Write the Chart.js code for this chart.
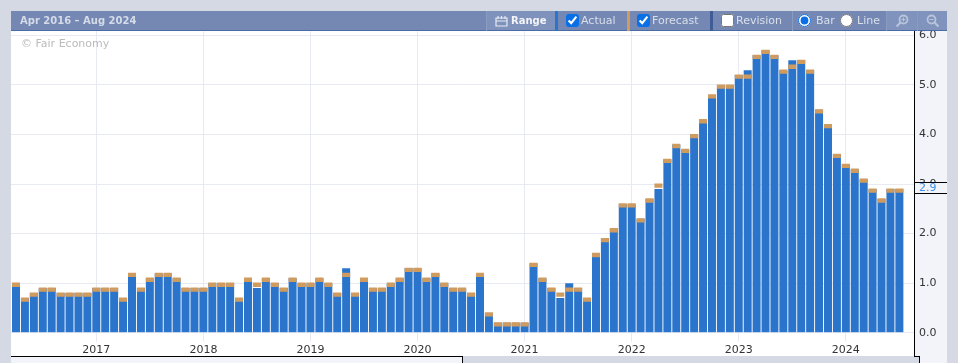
<!DOCTYPE html>
<html>
<head>
<meta charset="utf-8">
<script src="https://cdn.jsdelivr.net/npm/chart.js@4"></script>
<style>
html,body{margin:0;padding:0;width:958px;height:363px;overflow:hidden;background:#d5d9e3;font-family:"DejaVu Sans",sans-serif;}
.abs{position:absolute;}
#plotbg{left:11px;top:31px;width:903px;height:325px;background:#fff;}
#panel{left:914px;top:31px;width:33px;height:325px;background:#f3f4f9;}
#panel2{left:919px;top:356px;width:28px;height:7px;background:#f3f4f9;}
#botleft{left:11px;top:357px;width:451px;height:6px;background:#f3f4f9;}
.blk{position:absolute;background:#000;}
#chartwrap{left:11px;top:31px;width:936px;height:325px;}
#header{left:11px;top:11px;width:936px;height:19px;background:#7488b3;border-bottom:1px solid #4a6aa8;}
.t{position:absolute;font-size:11px;line-height:20px;top:11px;color:#d9dfeb;white-space:nowrap;}
.sep{position:absolute;top:11px;height:20px;width:1px;background:#8a9bc1;}
.stripe{position:absolute;top:11px;height:20px;width:3px;}
input{position:absolute;margin:0;width:13px;height:13px;top:14px;accent-color:#0b6fe6;}
svg{position:absolute;}
#wm{left:21px;top:37px;font-size:11px;line-height:14px;color:#bbbbbb;}
</style>
</head>
<body>
<div class="abs" id="plotbg"></div>
<div class="abs" id="panel"></div>
<div class="abs" id="panel2"></div>
<div class="abs" id="botleft"></div>
<div class="abs" id="chartwrap"><canvas id="c" width="936" height="325" style="display:block;width:936px;height:325px"></canvas></div>
<div class="abs" id="wm">© Fair Economy</div>
<div class="blk" style="left:914px;top:31px;width:1px;height:326px"></div>
<div class="blk" style="left:11px;top:356px;width:452px;height:1px"></div>
<div class="blk" style="left:462px;top:356px;width:1px;height:7px"></div>
<div class="blk" style="left:914px;top:356px;width:6px;height:1px"></div>
<div class="blk" style="left:919px;top:356px;width:1px;height:7px"></div>

<div class="abs" id="header"></div>
<div class="t" style="left:20px;font-weight:bold;font-size:10px;color:#d5dbe8">Apr 2016 – Aug 2024</div>
<div class="abs" style="left:487px;top:11px;width:68px;height:19px;background:#7f92bb"></div>
<div class="sep" style="left:486px"></div>
<svg style="left:495px;top:15px" width="13" height="12" viewBox="0 0 13 12"><path d="M1 3h11v8H1z M1 6h11" fill="none" stroke="#e6eaf2" stroke-width="1.2"/><path d="M3 1v3M6.500 1v3M10 1v3" stroke="#e6eaf2" stroke-width="1.2"/></svg>
<div class="t" style="left:511px;font-weight:bold;font-size:10px;color:#f2f4f8">Range</div>
<div class="stripe" style="left:555px;background:#2a74cc"></div>
<input type="checkbox" checked style="left:566px">
<div class="t" style="left:581px">Actual</div>
<div class="stripe" style="left:627px;background:#d09b5f"></div>
<input type="checkbox" checked style="left:637px">
<div class="t" style="left:652px">Forecast</div>
<div class="stripe" style="left:710px;background:#3f5c96"></div>
<input type="checkbox" style="left:721px">
<div class="t" style="left:736px">Revision</div>
<div class="sep" style="left:792px"></div>
<input type="radio" name="m" checked style="left:798px">
<div class="t" style="left:816px">Bar</div>
<input type="radio" name="m" style="left:840px">
<div class="t" style="left:857px">Line</div>
<div class="sep" style="left:886px"></div>
<div class="abs" style="left:887px;top:11px;width:60px;height:19px;background:#8093bc"></div>
<div class="sep" style="left:917px"></div>
<svg style="left:895px;top:14px" width="14" height="14" viewBox="0 0 14 14"><circle cx="8.500" cy="5.500" r="4" fill="none" stroke="#b9c4da" stroke-width="1.800"/><path d="M5.500 8.500L1.500 12.500" stroke="#b9c4da" stroke-width="2.200"/><path d="M6.500 5.500h4M8.500 3.500v4" stroke="#b9c4da" stroke-width="1"/></svg>
<svg style="left:926px;top:14px" width="14" height="14" viewBox="0 0 14 14"><circle cx="5.500" cy="5.500" r="4" fill="none" stroke="#b9c4da" stroke-width="1.800"/><path d="M8.500 8.500L12.500 12.500" stroke="#b9c4da" stroke-width="2.200"/><path d="M3.500 5.500h4" stroke="#b9c4da" stroke-width="1"/></svg>

<script>
// month index 0 = Apr 2016; Jan of each year falls on the indexes below
const yearLabels = ['2017','2018','2019','2020','2021','2022','2023','2024'];
const yearIndexes = [9, 21, 33, 45, 57, 69, 81, 93];
const yTicks = [0, 1, 2, 3, 4, 5, 6];
const forecast = [
 1.0,0.7,0.8,0.9,0.9,0.8,0.8,0.8,0.8,
 0.9,0.9,0.9,0.7,1.2,0.9,1.1,1.2,1.2,1.1,0.9,0.9,
 0.9,1.0,1.0,1.0,0.7,1.1,1.0,1.1,1.0,0.9,1.1,1.0,
 1.0,1.1,1.0,0.8,1.2,0.8,1.1,0.9,0.9,1.0,1.1,1.3,
 1.3,1.1,1.2,1.0,0.9,0.9,0.8,1.2,0.4,0.2,0.2,0.2,
 0.2,1.4,1.1,0.9,0.8,0.9,0.9,0.7,1.6,1.9,2.1,2.6,
 2.6,2.3,2.7,3.0,3.5,3.8,3.7,4.0,4.3,4.8,5.0,5.0,
 5.2,5.2,5.6,5.7,5.6,5.3,5.4,5.5,5.3,4.5,4.2,3.6,
 3.4,3.3,3.1,2.9,2.7,2.9,2.9];
const actual = [
 1.0,0.7,0.8,0.9,0.9,0.8,0.8,0.8,0.8,
 0.9,0.9,0.9,0.7,1.2,0.9,1.1,1.2,1.2,1.1,0.9,0.9,
 0.9,1.0,1.0,1.0,0.7,1.1,0.9,1.1,1.0,0.9,1.1,1.0,
 1.0,1.1,1.0,0.8,1.3,0.8,1.1,0.9,0.9,1.0,1.1,1.3,
 1.3,1.1,1.2,1.0,0.9,0.9,0.8,1.2,0.4,0.2,0.2,0.2,
 0.2,1.4,1.1,0.9,0.7,1.0,0.9,0.7,1.6,1.9,2.1,2.6,
 2.6,2.3,2.7,2.9,3.5,3.8,3.7,4.0,4.3,4.8,5.0,5.0,
 5.2,5.3,5.6,5.7,5.6,5.3,5.5,5.5,5.3,4.5,4.2,3.6,
 3.4,3.3,3.1,2.9,2.7,2.9,2.9];
const latestValue = 2.9;
const capBelow = 0.075;
const capAbove = 0.012;
const gridColor = '#e8eaf3';
const textColor = '#333333';

const tagPlugin = {
  id: 'tag',
  afterDraw(chart) {
    const c = chart.ctx, y = chart.scales.y, a = chart.chartArea;
    const py = Math.round(y.getPixelForValue(latestValue));
    c.save();
    c.fillStyle = '#f3f4f9';
    c.fillRect(a.right, py - 7, 33, 11);
    c.fillStyle = '#000';
    c.fillRect(a.right, py - 7, 33, 1);
    c.fillRect(a.right, py + 4, 33, 1);
    c.fillStyle = '#3f8fe8';
    c.font = '11px "DejaVu Sans"';
    c.textBaseline = 'middle';
    c.textAlign = 'left';
    c.fillText(latestValue.toFixed(1), a.right + 5, py - 1);
    c.restore();
  }
};

new Chart(document.getElementById('c'), {
  type: 'bar',
  data: {
    datasets: [
      { label: 'Forecast', order: 1, backgroundColor: '#d09b5f', grouped: false, inflateAmount: 0, barThickness: 8,
        data: forecast.map((v, i) => ({ x: i, y: [v - capBelow, v + capAbove] })) },
      { label: 'Actual', order: 2, backgroundColor: '#2a74cc', grouped: false, inflateAmount: 0, barThickness: 8,
        data: actual.map((v, i) => ({ x: i, y: v })) }
    ]
  },
  options: {
    responsive: false,
    animation: false,
    maintainAspectRatio: false,
    layout: { padding: 0 },
    plugins: { legend: { display: false }, tooltip: { enabled: false } },
    scales: {
      x: {
        type: 'linear', min: -0.5603, max: 100.64, offset: false,
        afterFit(s) { s.height = 23.3; s.paddingLeft = 0; s.paddingRight = 0; },
        afterBuildTicks(s) { s.ticks = yearIndexes.map(v => ({ value: v })); },
        border: { display: false },
        grid: { offset: false, drawOnChartArea: true, drawTicks: true, tickLength: 9, color: gridColor, lineWidth: 1 },
        ticks: {
          autoSkip: false, maxRotation: 0, minRotation: 0, padding: 2,
          color: textColor, font: { family: '"DejaVu Sans"', size: 11 },
          callback(v) { return yearLabels[yearIndexes.indexOf(v)]; }
        }
      },
      y: {
        position: 'right', min: 0, max: 6.09,
        afterFit(s) { s.width = 33; s.paddingTop = 0; s.paddingBottom = 0; },
        afterBuildTicks(s) { s.ticks = yTicks.map(v => ({ value: v })); },
        border: { display: false },
        grid: { color: gridColor, drawTicks: false, lineWidth: 1 },
        ticks: {
          includeBounds: false, padding: 5, color: textColor, align: 'center', crossAlign: 'near',
          font: { family: '"DejaVu Sans"', size: 11 },
          callback: v => v.toFixed(1)
        }
      }
    }
  },
  plugins: [tagPlugin]
});
</script>
</body>
</html>
